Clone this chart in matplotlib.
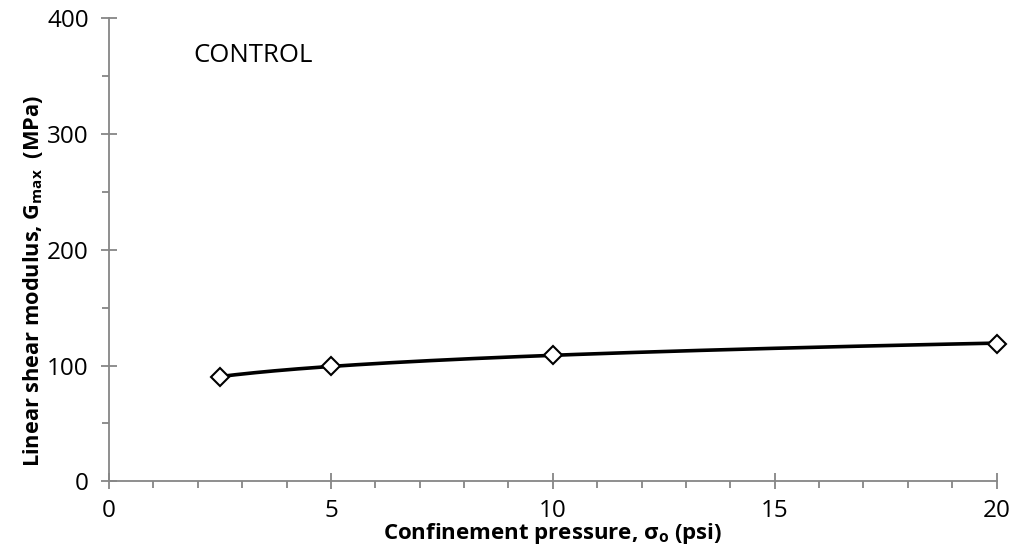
import numpy as np
import matplotlib
matplotlib.use("Agg")
import matplotlib.pyplot as plt
from matplotlib.ticker import MultipleLocator

pressure = [2.5, 5, 10, 20]
gmax = [90, 100, 109, 119]
x_ticks = [0, 5, 10, 15, 20]
y_ticks = [0, 100, 200, 300, 400]
label_text = "CONTROL"

plt.rcParams['font.family'] = ['Open Sans', 'DejaVu Sans']
plt.rcParams['mathtext.fontset'] = 'custom'
plt.rcParams['mathtext.rm'] = 'Open Sans'
plt.rcParams['mathtext.bf'] = 'Open Sans:bold'
plt.rcParams['mathtext.it'] = 'Open Sans:italic'

fig = plt.figure(figsize=(10.19, 5.52), dpi=100)
ax = fig.add_axes([0.107, 0.128, 0.871, 0.839])

# power-law trendline fitted to the data
b, ln_a = np.polyfit(np.log(pressure), np.log(gmax), 1)
xs = np.linspace(min(pressure), max(pressure), 200)
ax.plot(xs, np.exp(ln_a) * xs ** b, color='black', lw=2.6, zorder=2, clip_on=False)
ax.plot(pressure, gmax, linestyle='none', marker='D', markersize=9,
        markerfacecolor='white', markeredgecolor='black', markeredgewidth=1.5,
        zorder=3, clip_on=False)

ax.set_xlim(0, 20)
ax.set_ylim(0, 400)
ax.set_xticks(x_ticks)
ax.set_yticks(y_ticks)
ax.xaxis.set_minor_locator(MultipleLocator(1))
ax.yaxis.set_minor_locator(MultipleLocator(50))

gray = '#868686'
for s in ['top', 'right']:
    ax.spines[s].set_visible(False)
for s in ['left', 'bottom']:
    ax.spines[s].set_color(gray)
    ax.spines[s].set_linewidth(1.3)
ax.tick_params(which='major', direction='inout', length=11, width=1.3, color=gray,
               labelsize=17.5)
ax.tick_params(which='minor', direction='out', length=5, width=1.3, color=gray)
ax.tick_params(axis='y', which='major', pad=9)
ax.tick_params(axis='x', which='major', pad=7)

ax.set_xlabel(r'Confinement pressure, $\mathbf{\sigma_o}$ (psi)', fontsize=16,
              fontweight='bold', labelpad=-1)
ax.set_ylabel(r'Linear shear modulus, G$_\mathbf{max}$  (MPa)', fontsize=15.7,
              fontweight='bold')
ax.yaxis.set_label_coords(-0.072, 0.432)

ax.text(1.9, 368, label_text, fontsize=18.5, va='center', ha='left')

fig.savefig('out.png', dpi=100)
